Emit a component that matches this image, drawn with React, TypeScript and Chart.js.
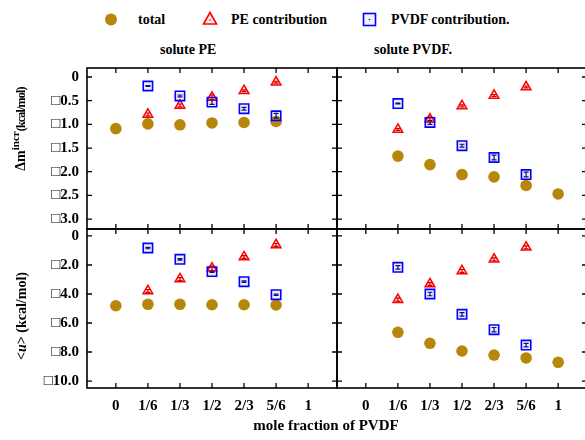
import React, { useEffect, useRef } from "react";
import { Chart, registerables } from "chart.js";
Chart.register(...registerables);

// ---------- data ----------
const xTickValues = [0, 1, 2, 3, 4, 5, 6];
const xTickLabels = ["0", "1/6", "1/3", "1/2", "2/3", "5/6", "1"];

const yTicksTop = [0, -0.5, -1.0, -1.5, -2.0, -2.5, -3.0];
const yTickLabelsTop = ["0", "□0.5", "□1.0", "□1.5", "□2.0", "□2.5", "□3.0"];
const yTicksBottom = [0, -2, -4, -6, -8, -10];
const yTickLabelsBottom = ["0", "□2.0", "□4.0", "□6.0", "□8.0", "□10.0"];

// x positions (index into xTickLabels)
const xTotalPE = [0, 1, 2, 3, 4, 5];
const xTotalPVDF = [1, 2, 3, 4, 5, 6];
const xContrib = [1, 2, 3, 4, 5];

// solute PE, Δμ incr
const dmuPE_total = [-1.09, -0.99, -1.01, -0.97, -0.96, -0.94];
const dmuPE_PE = [-0.79, -0.6, -0.43, -0.29, -0.11];
const dmuPE_PEerr = [0.03, 0.03, 0.05, 0.02, 0.02];
const dmuPE_PVDF = [-0.19, -0.4, -0.53, -0.67, -0.82];
const dmuPE_PVDFerr = [0.01, 0.02, 0.05, 0.03, 0.05];

// solute PVDF, Δμ incr
const dmuPVDF_total = [-1.67, -1.85, -2.06, -2.11, -2.29, -2.47];
const dmuPVDF_PE = [-1.11, -0.89, -0.61, -0.39, -0.21];
const dmuPVDF_PEerr = [0.02, 0.05, 0.02, 0.02, 0.02];
const dmuPVDF_PVDF = [-0.56, -0.96, -1.45, -1.7, -2.06];
const dmuPVDF_PVDFerr = [0.01, 0.04, 0.03, 0.05, 0.05];

// solute PE, <u>
const uPE_total = [-4.81, -4.71, -4.71, -4.74, -4.74, -4.76];
const uPE_PE = [-3.79, -2.97, -2.23, -1.45, -0.62];
const uPE_PEerr = [0.1, 0.1, 0.15, 0.1, 0.1];
const uPE_PVDF = [-0.83, -1.61, -2.46, -3.15, -4.05];
const uPE_PVDFerr = [0.05, 0.05, 0.05, 0.05, 0.05];

// solute PVDF, <u>
const uPVDF_total = [-6.64, -7.4, -7.93, -8.21, -8.41, -8.71];
const uPVDF_PE = [-4.39, -3.31, -2.41, -1.61, -0.78];
const uPVDF_PEerr = [0.1, 0.1, 0.1, 0.1, 0.1];
const uPVDF_PVDF = [-2.16, -4.0, -5.4, -6.46, -7.52];
const uPVDF_PVDFerr = [0.12, 0.12, 0.12, 0.15, 0.12];

const X_MIN = -0.9;
const X_MAX = 6.9;

const GOLD = "#b8860b";
const FONT = "'Liberation Serif', 'DejaVu Serif', 'Times New Roman', serif";

function pts(xs: number[], ys: number[]) {
  return ys.map((y, i) => ({ x: xs[i], y }));
}

function makeSets(
  xt: number[],
  total: number[],
  pe: number[],
  peErr: number[],
  pv: number[],
  pvErr: number[]
) {
  return [
    {
      label: "PVDF contribution",
      data: pts(xContrib, pv),
      errors: pvErr,
      errColor: "#101070",
      pointStyle: "rect",
      pointRadius: 6.6,
      pointHoverRadius: 6.6,
      borderWidth: 1.6,
      borderColor: "#0000ff",
      backgroundColor: "rgba(0,0,255,0.07)",
      order: 0,
    },
    {
      label: "PE contribution",
      data: pts(xContrib, pe),
      errors: peErr,
      errColor: "#cc0000",
      pointStyle: "triangle",
      pointRadius: 5.6,
      pointHoverRadius: 5.6,
      borderWidth: 1.5,
      borderColor: "#ff0000",
      backgroundColor: "rgba(255,0,0,0.08)",
      order: 1,
    },
    {
      label: "total",
      data: pts(xt, total),
      pointStyle: "circle",
      pointRadius: 5.8,
      pointHoverRadius: 5.8,
      borderWidth: 0,
      borderColor: GOLD,
      backgroundColor: GOLD,
      order: 2,
    },
  ];
}

function framePlugin(yTicks: number[]) {
  return {
    id: "frame",
    afterDatasetsDraw(chart: any) {
      const { ctx } = chart;
      const xs = chart.scales.x;
      const ys = chart.scales.y;
      ctx.save();
      chart.data.datasets.forEach((ds: any) => {
        if (!ds.errors) return;
        ctx.strokeStyle = ds.errColor;
        ctx.lineWidth = 1.2;
        ds.data.forEach((p: any, i: number) => {
          const e = ds.errors[i];
          const px = xs.getPixelForValue(p.x);
          const y1 = ys.getPixelForValue(p.y + e);
          const y2 = ys.getPixelForValue(p.y - e);
          ctx.beginPath();
          ctx.moveTo(px, y1);
          ctx.lineTo(px, y2);
          ctx.moveTo(px - 2.5, y1);
          ctx.lineTo(px + 2.5, y1);
          ctx.moveTo(px - 2.5, y2);
          ctx.lineTo(px + 2.5, y2);
          ctx.stroke();
        });
      });
      ctx.restore();
    },
    afterDraw(chart: any) {
      const { ctx, chartArea: a } = chart;
      const xs = chart.scales.x;
      const ys = chart.scales.y;
      ctx.save();
      ctx.strokeStyle = "#000";
      ctx.lineWidth = 1.6;
      ctx.strokeRect(a.left, a.top, a.right - a.left, a.bottom - a.top);
      ctx.lineWidth = 1.3;
      ctx.beginPath();
      xTickValues.forEach((v) => {
        const px = xs.getPixelForValue(v);
        ctx.moveTo(px, a.top);
        ctx.lineTo(px, a.top + 5);
        ctx.moveTo(px, a.bottom);
        ctx.lineTo(px, a.bottom - 5);
      });
      yTicks.forEach((v) => {
        const py = ys.getPixelForValue(v);
        ctx.moveTo(a.left, py);
        ctx.lineTo(a.left + 5, py);
        ctx.moveTo(a.right, py);
        ctx.lineTo(a.right - 5, py);
      });
      ctx.stroke();
      ctx.restore();
    },
  };
}

type PanelProps = {
  left: number;
  top: number;
  w: number;
  h: number;
  padding: { left: number; top: number; right: number; bottom: number };
  yWidth: number;
  xHeight: number;
  showY: boolean;
  showX: boolean;
  yMin: number;
  yMax: number;
  yTicks: number[];
  yLabels: string[];
  datasets: any[];
};

function zeroPad(s: any) {
  s.paddingLeft = 0;
  s.paddingRight = 0;
  s.paddingTop = 0;
  s.paddingBottom = 0;
}

function Panel(p: PanelProps) {
  const ref = useRef<HTMLCanvasElement>(null);
  useEffect(() => {
    if (!ref.current) return;
    const tickFont = { family: FONT, size: 15, weight: "bold" as const };
    const chart = new Chart(ref.current, {
      type: "scatter",
      data: { datasets: p.datasets },
      options: {
        animation: false,
        responsive: false,
        devicePixelRatio: 1,
        events: [],
        layout: { padding: p.padding, autoPadding: false },
        plugins: { legend: { display: false }, tooltip: { enabled: false }, title: { display: false } },
        scales: {
          x: {
            type: "linear",
            min: X_MIN,
            max: X_MAX,
            afterBuildTicks: (s: any) => {
              s.ticks = xTickValues.map((v) => ({ value: v }));
            },
            afterFit: (s: any) => {
              s.height = p.xHeight;
              zeroPad(s);
            },
            ticks: {
              display: p.showX,
              autoSkip: false,
              maxRotation: 0,
              padding: 9,
              color: "#000",
              font: tickFont,
              callback: (_v: any, i: number) => xTickLabels[i],
            },
            grid: { display: false, drawTicks: false },
            border: { display: false },
          },
          y: {
            type: "linear",
            min: p.yMin,
            max: p.yMax,
            afterBuildTicks: (s: any) => {
              s.ticks = p.yTicks.map((v) => ({ value: v }));
            },
            afterFit: (s: any) => {
              s.width = p.yWidth;
              zeroPad(s);
            },
            ticks: {
              display: p.showY,
              autoSkip: false,
              padding: 8,
              color: "#000",
              font: tickFont,
              callback: (_v: any, i: number) => p.yLabels[i],
            },
            grid: { display: false, drawTicks: false },
            border: { display: false },
          },
        },
      } as any,
      plugins: [framePlugin(p.yTicks)],
    });
    return () => chart.destroy();
  }, []);
  return (
    <canvas
      ref={ref}
      width={p.w}
      height={p.h}
      style={{ position: "absolute", left: p.left, top: p.top, width: p.w, height: p.h }}
    />
  );
}

const txt: React.CSSProperties = {
  position: "absolute",
  fontFamily: FONT,
  fontWeight: "bold",
  fontSize: 14,
  lineHeight: "16px",
  whiteSpace: "nowrap",
  color: "#000",
};

export default function App() {
  const TOP_Y = { min: -3.21, max: 0.19 };
  const BOT_Y = { min: -10.48, max: 0.48 };
  return (
    <div
      style={{
        position: "fixed",
        left: 0,
        top: 0,
        width: 585,
        height: 440,
        overflow: "hidden",
        background: "#fff",
      }}
    >
      {/* legend */}
      <svg width={585} height={40} style={{ position: "absolute", left: 0, top: 0 }}>
        <circle cx={111} cy={19.5} r={6} fill={GOLD} />
        <polygon points="210,12.5 216.5,24 203.5,24" fill="rgba(255,0,0,0.08)" stroke="#ff0000" strokeWidth={1.6} />
        <circle cx={210} cy={20} r={0.8} fill="#cc0000" />
        <rect x={363.5} y={13.5} width={12} height={12} fill="rgba(0,0,255,0.05)" stroke="#0000ff" strokeWidth={1.6} />
        <circle cx={369.5} cy={19.5} r={0.8} fill="#101070" />
      </svg>
      <div style={{ ...txt, left: 138, top: 12 }}>total</div>
      <div style={{ ...txt, left: 231, top: 12 }}>PE contribution</div>
      <div style={{ ...txt, left: 391, top: 12 }}>PVDF contribution.</div>

      <div style={{ ...txt, left: 160, top: 42 }}>solute PE</div>
      <div style={{ ...txt, left: 374, top: 42 }}>solute PVDF.</div>

      <Panel
        left={0}
        top={60}
        w={340}
        h={172}
        padding={{ left: 0, top: 8, right: 3, bottom: 3 }}
        yWidth={87}
        xHeight={0}
        showY={true}
        showX={false}
        yMin={TOP_Y.min}
        yMax={TOP_Y.max}
        yTicks={yTicksTop}
        yLabels={yTickLabelsTop}
        datasets={makeSets(xTotalPE, dmuPE_total, dmuPE_PE, dmuPE_PEerr, dmuPE_PVDF, dmuPE_PVDFerr)}
      />
      <Panel
        left={334}
        top={60}
        w={256}
        h={172}
        padding={{ left: 3, top: 8, right: 3, bottom: 3 }}
        yWidth={0}
        xHeight={0}
        showY={false}
        showX={false}
        yMin={TOP_Y.min}
        yMax={TOP_Y.max}
        yTicks={yTicksTop}
        yLabels={yTickLabelsTop}
        datasets={makeSets(xTotalPVDF, dmuPVDF_total, dmuPVDF_PE, dmuPVDF_PEerr, dmuPVDF_PVDF, dmuPVDF_PVDFerr)}
      />
      <Panel
        left={0}
        top={226}
        w={340}
        h={214}
        padding={{ left: 0, top: 3, right: 3, bottom: 0 }}
        yWidth={87}
        xHeight={52}
        showY={true}
        showX={true}
        yMin={BOT_Y.min}
        yMax={BOT_Y.max}
        yTicks={yTicksBottom}
        yLabels={yTickLabelsBottom}
        datasets={makeSets(xTotalPE, uPE_total, uPE_PE, uPE_PEerr, uPE_PVDF, uPE_PVDFerr)}
      />
      <Panel
        left={334}
        top={226}
        w={256}
        h={214}
        padding={{ left: 3, top: 3, right: 3, bottom: 0 }}
        yWidth={0}
        xHeight={52}
        showY={false}
        showX={true}
        yMin={BOT_Y.min}
        yMax={BOT_Y.max}
        yTicks={yTicksBottom}
        yLabels={yTickLabelsBottom}
        datasets={makeSets(xTotalPVDF, uPVDF_total, uPVDF_PE, uPVDF_PEerr, uPVDF_PVDF, uPVDF_PVDFerr)}
      />

      {/* axis titles */}
      <div style={{ ...txt, fontSize: 15, lineHeight: "17px", left: 326, top: 417, transform: "translateX(-50%)" }}>
        mole fraction of PVDF
      </div>
      <div
        style={{
          ...txt,
          left: 21,
          top: 129,
          transform: "translate(-50%, -50%) rotate(-90deg)",
        }}
      >
        Δm<span style={{ fontSize: 11, position: "relative", top: -6 }}>incr</span>
        <span style={{ fontSize: 12, letterSpacing: "-0.8px" }}>(kcal/mol)</span>
      </div>
      <div
        style={{
          ...txt,
          left: 22,
          top: 316,
          transform: "translate(-50%, -50%) rotate(-90deg)",
        }}
      >
        &lt;<i>u</i>&gt; (kcal/mol)
      </div>
    </div>
  );
}
